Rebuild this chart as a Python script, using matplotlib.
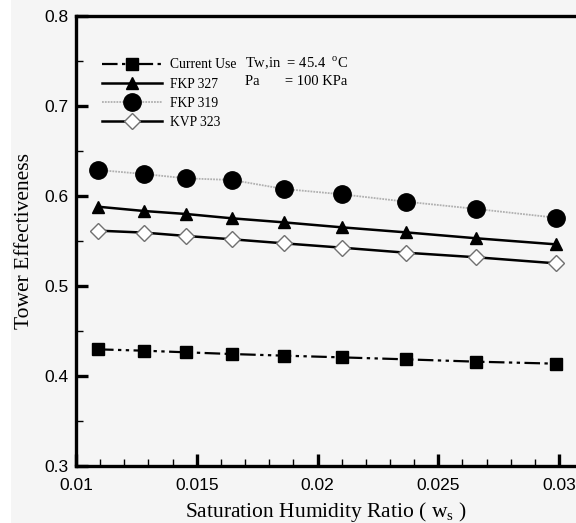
import numpy as np
import matplotlib.pyplot as plt
from matplotlib.ticker import MultipleLocator
from matplotlib.patches import Rectangle

# datos
ws = [0.01091, 0.01283, 0.01456, 0.01646, 0.01861, 0.0210, 0.02366, 0.02658, 0.02986]
current_use = [0.4296, 0.4281, 0.4263, 0.4244, 0.4226, 0.4207, 0.4185, 0.4159, 0.4137]
fkp327 = [0.5881, 0.5833, 0.5800, 0.5752, 0.5707, 0.5652, 0.5596, 0.5530, 0.5463]
fkp319 = [0.6289, 0.6244, 0.6196, 0.6178, 0.6078, 0.6019, 0.5937, 0.5856, 0.5759]
kvp323 = [0.5615, 0.5593, 0.5556, 0.5519, 0.5474, 0.5426, 0.5370, 0.5319, 0.5252]

serif = 'Liberation Serif'
sans = 'Liberation Sans'

fig = plt.figure(figsize=(5.76, 5.23), dpi=100)
fig.patch.set_facecolor('#f5f5f5')
# franja blanca a la izquierda
fig.patches.append(Rectangle((0, 0), 11 / 576, 1, transform=fig.transFigure,
                             facecolor='white', edgecolor='none', zorder=-1))
ax = fig.add_axes([0.132, 0.109, 0.868, 0.8604])
ax.set_facecolor('#f5f5f5')

ax.plot(ws, current_use, color='black', lw=1.6, ls=(0, (7, 2, 1.5, 2, 1.5, 2)),
        marker='s', ms=9, mfc='black', mec='black', label='Current Use')
ax.plot(ws, fkp327, color='black', lw=1.8, marker='^', ms=9,
        mfc='black', mec='black', label='FKP 327')
ax.plot(ws, fkp319, color='#b0b0b0', lw=1.3, ls=(0, (1, 0.6)), marker='o', ms=12.5,
        mfc='black', mec='black', label='FKP 319')
ax.plot(ws, kvp323, color='black', lw=1.8, marker='D', ms=8.5,
        mfc='white', mec='#707070', mew=1, label='KVP 323')

ax.set_xlim(0.01, 0.0307)
ax.set_ylim(0.3, 0.8)
ax.xaxis.set_minor_locator(MultipleLocator(0.001))
ax.yaxis.set_minor_locator(MultipleLocator(0.05))
ax.set_xticks([0.01, 0.015, 0.02, 0.025, 0.03])
ax.set_xticklabels(['0.01', '0.015', '0.02', '0.025', '0.03'])
ax.set_yticks([0.3, 0.4, 0.5, 0.6, 0.7, 0.8])
ax.set_yticklabels(['0.3', '0.4', '0.5', '0.6', '0.7', '0.8'])
ax.tick_params(which='major', direction='in', length=8.5, width=2.4, labelsize=12.5)
ax.tick_params(axis='x', which='major', pad=8.5)
ax.tick_params(axis='y', which='major', pad=5.5)
ax.tick_params(which='minor', direction='in', length=5, width=1)
for lab in ax.get_xticklabels() + ax.get_yticklabels():
    lab.set_family(sans)

for s in ['left', 'bottom', 'top']:
    ax.spines[s].set_linewidth(2.4)
ax.spines['right'].set_visible(False)

ax.set_xlabel('Saturation Humidity Ratio ( w$_\\mathregular{s}$ )', family=serif,
              fontsize=15.5, labelpad=5)
ax.set_ylabel('Tower Effectiveness', family=serif, fontsize=15.5, labelpad=7)

leg = ax.legend(loc='upper left', bbox_to_anchor=(0.028, 0.933), frameon=False,
                prop={'family': serif, 'size': 9.8}, handlelength=4.4,
                labelspacing=0.45, handletextpad=0.6)

ax.text(0.338, 0.895, 'Tw,in  = 45.4  $^\\mathregular{o}$C', transform=ax.transAxes,
        family=serif, fontsize=10.5, va='center')
ax.text(0.338, 0.855, 'Pa       = 100 KPa', transform=ax.transAxes,
        family=serif, fontsize=10.5, va='center')

fig.savefig('out.png', dpi=100, facecolor=fig.get_facecolor())
